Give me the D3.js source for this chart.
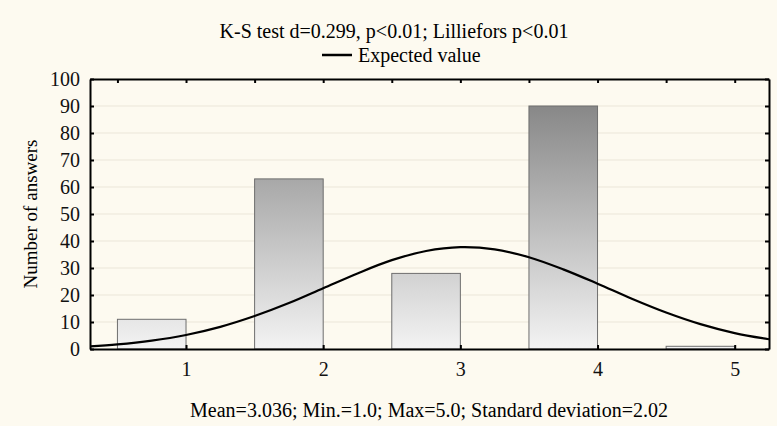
<!DOCTYPE html>
<html lang="en">
<head>
  <meta charset="UTF-8">
  <title>K-S test histogram</title>
  <style>
    body {
      margin: 0;
      padding: 0;
      background-color: #fdfaf0;
    }

    .grid line {
      stroke: #ebe6d9;
      stroke-width: 1;
    }

    .axis path, .axis line {
      stroke: #000;
      stroke-width: 2;
    }
  </style>
  <script src="https://d3js.org/d3.v7.min.js"></script>
</head>
<body>
  <div id="chart"></div>
  <script>
    // histogram values (answers on a 1..5 scale)
    const categories = [1, 2, 3, 4, 5];
    const counts = [11, 63, 28, 90, 1];

    // expected value curve
    const curveX = [0.3, 0.5, 0.75, 1, 1.25, 1.5, 1.75, 2, 2.25, 2.5, 2.75, 3, 3.25, 3.5, 3.75, 4, 4.25, 4.5, 4.75, 5, 5.25];
    const curveY = [1.0, 1.7, 3.1, 5.2, 8.2, 12.2, 17.0, 22.5, 28.0, 32.9, 36.3, 37.7, 36.9, 34.0, 29.5, 24.2, 18.6, 13.5, 9.2, 5.9, 3.6];

    const yTicks = [0, 10, 20, 30, 40, 50, 60, 70, 80, 90, 100];
    const xTicks = [1, 2, 3, 4, 5];
    const topTicks = [0.5, 1, 1.5, 2, 2.5, 3, 3.5, 4, 4.5, 5];

    const title = "K-S test d=0.299, p<0.01; Lilliefors p<0.01";
    const legendLabel = "Expected value";
    const yLabel = "Number of answers";
    const footer = "Mean=3.036; Min.=1.0; Max=5.0; Standard deviation=2.02";

    const serif = "'Liberation Serif', Tinos, 'Times New Roman', Times, serif";

    const width = 777;
    const height = 426;
    const margin = { top: 79, right: 8, bottom: 77, left: 90 };
    const innerW = width - margin.left - margin.right;
    const innerH = height - margin.top - margin.bottom;

    const svg = d3.select("#chart")
      .append("svg")
      .attr("width", width)
      .attr("height", height)
      .attr("font-family", serif);

    svg.append("rect")
      .attr("width", width)
      .attr("height", height)
      .attr("fill", "#fdfaf0");

    const x = d3.scaleLinear().domain([0.3, 5.25]).range([0, innerW]);
    const y = d3.scaleLinear().domain([0, 100]).range([innerH, 0]);

    // grey gradient, dark at the top of the value range
    const defs = svg.append("defs");
    const grad = defs.append("linearGradient")
      .attr("id", "barFill")
      .attr("gradientUnits", "userSpaceOnUse")
      .attr("x1", 0).attr("x2", 0)
      .attr("y1", y(0)).attr("y2", y(100));
    grad.append("stop").attr("offset", "0%").attr("stop-color", "#f3f3f3");
    grad.append("stop").attr("offset", "100%").attr("stop-color", "#7c7c7c");

    const g = svg.append("g")
      .attr("transform", `translate(${margin.left},${margin.top})`);

    g.append("g")
      .attr("class", "grid")
      .selectAll("line")
      .data(yTicks.slice(1, -1))
      .enter()
      .append("line")
      .attr("x1", 0)
      .attr("x2", innerW)
      .attr("y1", d => y(d))
      .attr("y2", d => y(d));

    // bars sit on [v - 0.5, v]
    g.selectAll(".bar")
      .data(categories)
      .enter()
      .append("rect")
      .attr("class", "bar")
      .attr("x", d => x(d - 0.5))
      .attr("width", d => x(d) - x(d - 0.5))
      .attr("y", (d, i) => y(counts[i]))
      .attr("height", (d, i) => y(0) - y(counts[i]))
      .attr("fill", "url(#barFill)")
      .attr("stroke", "#6e6e6e")
      .attr("stroke-width", 1);

    const line = d3.line()
      .x(d => x(d[0]))
      .y(d => y(d[1]))
      .curve(d3.curveCatmullRom);

    g.append("path")
      .datum(d3.zip(curveX, curveY))
      .attr("fill", "none")
      .attr("stroke", "#000")
      .attr("stroke-width", 2.2)
      .attr("d", line);

    // axes, ticks pointing inward
    const fontSize = 20;

    const left = g.append("g")
      .attr("class", "axis")
      .call(d3.axisLeft(y).tickValues(yTicks).tickSizeInner(-4).tickSizeOuter(0).tickPadding(10));
    left.selectAll("text")
      .attr("font-family", serif)
      .style("font-size", fontSize + "px")
      .attr("fill", "#111");

    g.append("g")
      .attr("class", "axis")
      .attr("transform", `translate(${innerW},0)`)
      .call(d3.axisRight(y).tickValues(yTicks).tickSizeInner(-4).tickSizeOuter(0).tickFormat(""));

    const bottom = g.append("g")
      .attr("class", "axis")
      .attr("transform", `translate(0,${innerH})`)
      .call(d3.axisBottom(x).tickValues(xTicks).tickSizeInner(-4).tickSizeOuter(0).tickPadding(13).tickFormat(d3.format("d")));
    bottom.selectAll("text")
      .attr("font-family", serif)
      .style("font-size", fontSize + "px")
      .attr("fill", "#111");

    g.append("g")
      .attr("class", "axis")
      .call(d3.axisTop(x).tickValues(topTicks).tickSizeInner(-4).tickSizeOuter(0).tickFormat(""));

    // title and legend
    svg.append("text")
      .attr("x", 394)
      .attr("y", 38)
      .attr("text-anchor", "middle")
      .style("font-size", "20px")
      .text(title);

    svg.append("line")
      .attr("x1", 322)
      .attr("x2", 352)
      .attr("y1", 55)
      .attr("y2", 55)
      .attr("stroke", "#000")
      .attr("stroke-width", 2.5);

    svg.append("text")
      .attr("x", 358)
      .attr("y", 62)
      .style("font-size", "20px")
      .text(legendLabel);

    svg.append("text")
      .attr("transform", `translate(37,214) rotate(-90)`)
      .attr("text-anchor", "middle")
      .style("font-size", "19px")
      .text(yLabel);

    svg.append("text")
      .attr("x", 429)
      .attr("y", 417)
      .attr("text-anchor", "middle")
      .style("font-size", "20px")
      .text(footer);
  </script>
</body>
</html>
